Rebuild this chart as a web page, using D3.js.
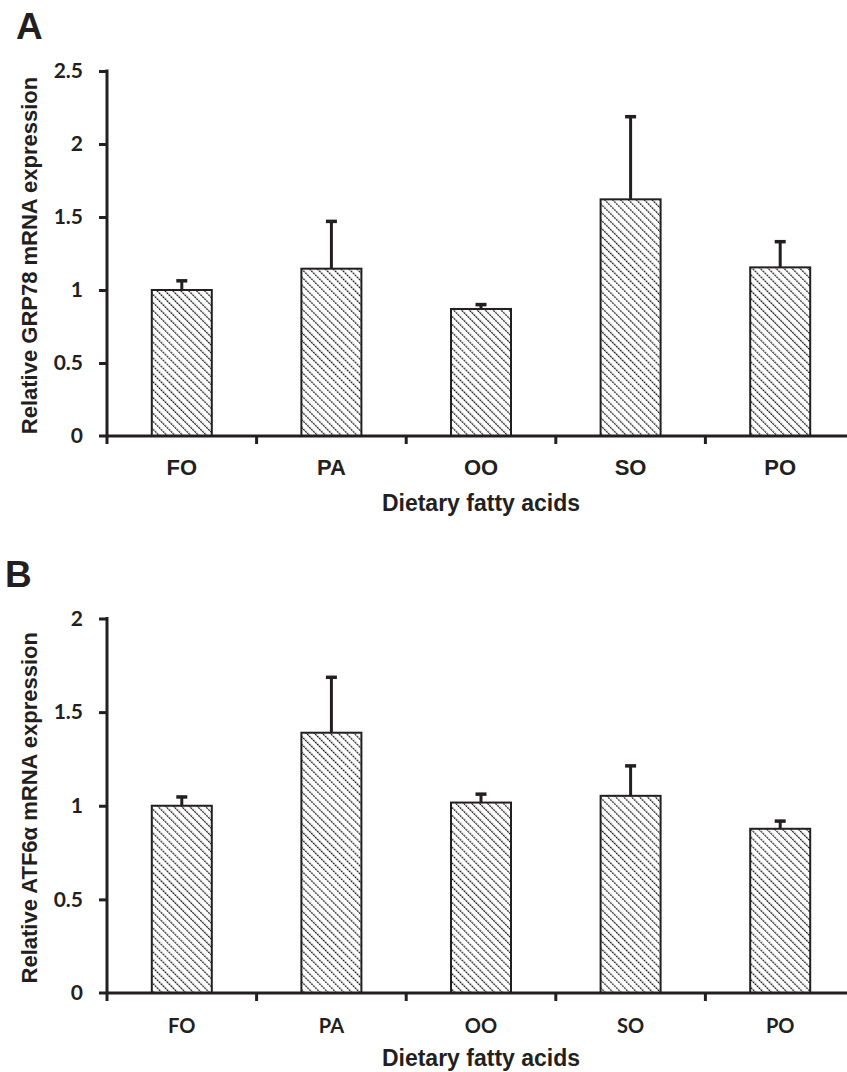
<!DOCTYPE html>
<html>
<head>
<meta charset="utf-8">
<script src="https://cdn.jsdelivr.net/npm/d3@7"></script>
<style>
  body { margin: 0; background: #fff; }
  svg { display: block; }
</style>
</head>
<body>
<div id="chart-area"></div>
<script>
// data
const categories = ["FO", "PA", "OO", "SO", "PO"]
const grp78Means = [1.00, 1.146, 0.87, 1.621, 1.155]
const grp78Errors = [0.063, 0.324, 0.03, 0.566, 0.176]
const grp78Ticks = [0, 0.5, 1, 1.5, 2, 2.5]
const atf6Means = [1.00, 1.39, 1.017, 1.053, 0.877]
const atf6Errors = [0.047, 0.296, 0.045, 0.16, 0.041]
const atf6Ticks = [0, 0.5, 1, 1.5, 2]

const W = 847, H = 1072
const INK = "#231f20"
const ARIAL = "'Liberation Sans', Arial, sans-serif"
const CALIBRI = "Lato, 'Open Sans', sans-serif"

const svg = d3.select("#chart-area").append("svg")
  .attr("width", W)
  .attr("height", H)

// hatch pattern for the bars
const defs = svg.append("defs")
const pat = defs.append("pattern")
  .attr("id", "hatch")
  .attr("patternUnits", "userSpaceOnUse")
  .attr("width", 5.6)
  .attr("height", 5.6)
  .attr("patternTransform", "rotate(-45)")
pat.append("rect").attr("width", 5.6).attr("height", 5.6).attr("fill", "#fff")
pat.append("line")
  .attr("x1", 0).attr("y1", 0).attr("x2", 0).attr("y2", 5.6)
  .attr("stroke", "#1a1a1a")
  .attr("stroke-width", 2.4)
  .attr("stroke-dasharray", "2,0.8")

function drawPanel(opt) {
  const x = d3.scaleBand()
    .domain(categories)
    .range([107, 855])
    .paddingInner(0)
    .paddingOuter(0)

  const y = d3.scaleLinear()
    .domain([0, d3.max(opt.ticks)])
    .range([opt.y0, opt.yTop])

  const g = svg.append("g")

  // panel letter
  svg.append("text")
    .attr("x", opt.letterX)
    .attr("y", opt.letterY)
    .attr("font-family", ARIAL)
    .attr("font-weight", "bold")
    .attr("font-size", "37px")
    .attr("fill", INK)
    .text(opt.letter)

  // bars
  const bw = 60
  g.selectAll("rect.bar")
    .data(opt.means)
    .enter().append("rect")
    .attr("class", "bar")
    .attr("x", (d, i) => x(categories[i]) + x.bandwidth() / 2 - bw / 2)
    .attr("y", d => y(d))
    .attr("width", bw)
    .attr("height", d => y(0) - y(d))
    .attr("fill", "url(#hatch)")
    .attr("stroke", INK)
    .attr("stroke-width", 2)

  // error bars (upper only)
  const eb = g.selectAll("g.err")
    .data(opt.means)
    .enter().append("g")
    .attr("class", "err")
  eb.append("line")
    .attr("x1", (d, i) => x(categories[i]) + x.bandwidth() / 2)
    .attr("x2", (d, i) => x(categories[i]) + x.bandwidth() / 2)
    .attr("y1", d => y(d))
    .attr("y2", (d, i) => y(d + opt.errors[i]))
    .attr("stroke", INK)
    .attr("stroke-width", 3)
  eb.append("line")
    .attr("x1", (d, i) => x(categories[i]) + x.bandwidth() / 2 - 5.5)
    .attr("x2", (d, i) => x(categories[i]) + x.bandwidth() / 2 + 5.5)
    .attr("y1", (d, i) => y(d + opt.errors[i]))
    .attr("y2", (d, i) => y(d + opt.errors[i]))
    .attr("stroke", INK)
    .attr("stroke-width", 3.5)

  // y axis
  const yAxis = g.append("g")
    .attr("transform", "translate(107,0)")
    .call(d3.axisLeft(y).tickValues(opt.ticks).tickSize(8).tickPadding(16)
      .tickFormat(d => d3.format("")(d)))
  yAxis.select(".domain").remove()
  yAxis.selectAll(".tick line").attr("stroke", INK).attr("stroke-width", 3)
  yAxis.selectAll(".tick text")
    .attr("font-family", CALIBRI)
    .attr("font-weight", "bold")
    .attr("font-size", "21px")
    .attr("fill", INK)
  yAxis.selectAll(".tick").filter(d => d === 0).select("line").remove()
  g.append("line")
    .attr("x1", 107).attr("x2", 107)
    .attr("y1", y(0)).attr("y2", y(d3.max(opt.ticks)) - 1.5)
    .attr("stroke", INK).attr("stroke-width", 3)

  // x axis
  g.append("line")
    .attr("x1", 99).attr("x2", 855)
    .attr("y1", y(0)).attr("y2", y(0))
    .attr("stroke", INK).attr("stroke-width", 3)
  g.selectAll("line.xtick")
    .data(categories)
    .enter().append("line")
    .attr("class", "xtick")
    .attr("x1", d => x(d)).attr("x2", d => x(d))
    .attr("y1", y(0)).attr("y2", y(0) + 8)
    .attr("stroke", INK).attr("stroke-width", 3)
  g.selectAll("text.cat")
    .data(categories)
    .enter().append("text")
    .attr("class", "cat")
    .attr("x", d => x(d) + x.bandwidth() / 2)
    .attr("y", opt.catY)
    .attr("text-anchor", "middle")
    .attr("font-family", opt.catFont)
    .attr("font-weight", "bold")
    .attr("font-size", opt.catSize)
    .attr("fill", INK)
    .text(d => d)

  // X label
  g.append("text")
    .attr("x", 481)
    .attr("y", opt.xLabelY)
    .attr("text-anchor", "middle")
    .attr("font-family", ARIAL)
    .attr("font-weight", "bold")
    .attr("font-size", "23px")
    .attr("fill", INK)
    .text("Dietary fatty acids")

  // Y label
  g.append("text")
    .attr("transform", `translate(37, ${(opt.y0 + opt.yTop) / 2 + 2}) rotate(-90)`)
    .attr("text-anchor", "middle")
    .attr("font-family", ARIAL)
    .attr("font-weight", "bold")
    .attr("font-size", "22px")
    .attr("fill", INK)
    .text(opt.yLabel)
}

drawPanel({
  letter: "A", letterX: 16, letterY: 39,
  means: grp78Means, errors: grp78Errors, ticks: grp78Ticks,
  y0: 436, yTop: 71,
  catY: 475, catFont: ARIAL, catSize: "22px",
  xLabelY: 511,
  yLabel: "Relative GRP78 mRNA expression"
})

drawPanel({
  letter: "B", letterX: 5, letterY: 587,
  means: atf6Means, errors: atf6Errors, ticks: atf6Ticks,
  y0: 993, yTop: 618.5,
  catY: 1033, catFont: CALIBRI, catSize: "20px",
  xLabelY: 1066,
  yLabel: "Relative ATF6α mRNA expression"
})
</script>
</body>
</html>
